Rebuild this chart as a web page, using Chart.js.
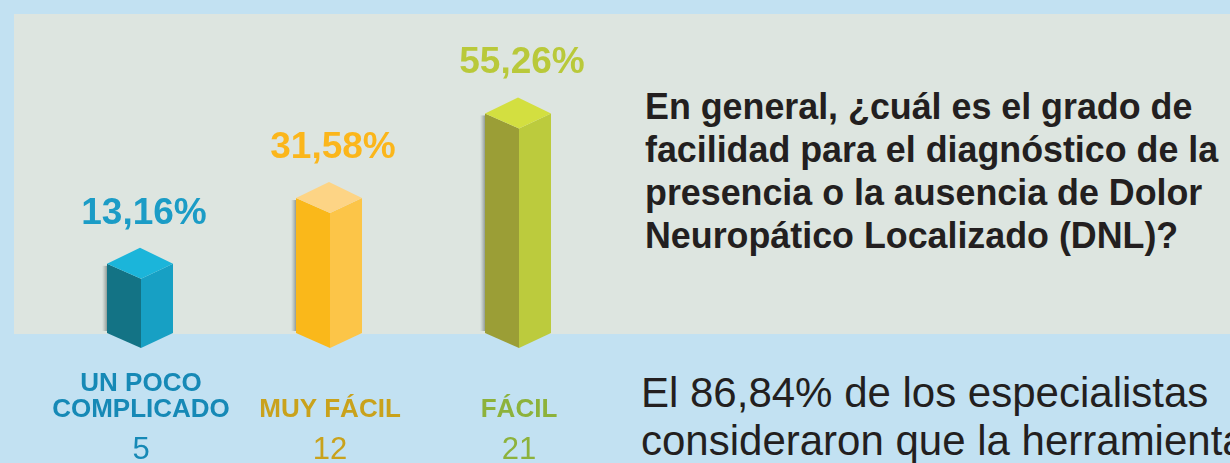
<!DOCTYPE html>
<html lang="es">
<head>
    <meta charset="UTF-8">
    <title>Grado de facilidad DNL</title>
    <script src="https://cdn.jsdelivr.net/npm/chart.js"></script>
    <style>
        html, body {
            margin: 0;
            padding: 0;
            width: 1230px;
            height: 463px;
            overflow: hidden;
            background: #c2e1f2;
            font-family: "Liberation Sans", Arial, sans-serif;
        }
        .panel {
            position: absolute;
            left: 14px;
            top: 14px;
            width: 1216px;
            height: 320px;
            background: #dde5e0;
        }
        #chart {
            position: absolute;
            left: 0;
            top: 0;
        }
        .question {
            position: absolute;
            left: 645px;
            top: 85px;
            font-size: 36px;
            line-height: 43px;
            font-weight: bold;
            color: #231f20;
            white-space: nowrap;
            transform-origin: left top;
        }
        .note {
            position: absolute;
            left: 641px;
            top: 369px;
            font-size: 42px;
            line-height: 48px;
            color: #231f20;
            white-space: nowrap;
        }
    </style>
</head>
<body>

    <div class="panel"></div>
    <canvas id="chart" width="640" height="463"></canvas>

    <div class="question" id="question">
        <div>En general, ¿cuál es el grado de</div>
        <div id="qline2">facilidad para el diagnóstico de la</div>
        <div>presencia o la ausencia de Dolor</div>
        <div>Neuropático Localizado (DNL)?</div>
    </div>

    <div class="note">
        <div>El 86,84% de los especialistas</div>
        <div>consideraron que la herramienta</div>
    </div>

    <script>
        // Chart data
        const categories = [['UN POCO', 'COMPLICADO'], ['MUY FÁCIL'], ['FÁCIL']];
        const percentages = [13.16, 31.58, 55.26];
        const counts = [5, 12, 21];

        // Colours per bar: left face, right face, top face
        const faces = [
            { left: '#137385', right: '#17a0c4', top: '#1bb5da' },
            { left: '#fab81a', right: '#fcc548', top: '#fdd485' },
            { left: '#9b9e36', right: '#bccb3d', top: '#d3df40' }
        ];
        const pctColors = ['#1b9cc6', '#fbb61b', '#b9c93a'];
        const catColors = ['#1689b6', '#c9a21c', '#8db23b'];

        const fmt = v => v.toFixed(2).replace('.', ',') + '%';

        // draws each bar as a 3D prism using the bar element geometry
        const prismPlugin = {
            id: 'prisms',
            afterDatasetsDraw(chart) {
                const ctx = chart.ctx;
                const area = chart.chartArea;
                const meta = chart.getDatasetMeta(0);
                const wl = 34, wr = 32, up = 16, down = 15;
                const bottom = area.bottom;

                meta.data.forEach((bar, i) => {
                    const c = bar.x;
                    const t = bar.y;
                    const f = faces[i];

                    // soft shadow on the left
                    const g = ctx.createLinearGradient(c - wl - 5, 0, c - wl, 0);
                    g.addColorStop(0, 'rgba(150,160,156,0)');
                    g.addColorStop(1, 'rgba(120,130,126,0.75)');
                    ctx.fillStyle = g;
                    ctx.fillRect(c - wl - 5, t + 2, 5, bottom - t - 4);

                    // left face
                    ctx.fillStyle = f.left;
                    ctx.beginPath();
                    ctx.moveTo(c - wl, t);
                    ctx.lineTo(c, t + down);
                    ctx.lineTo(c, bottom + down);
                    ctx.lineTo(c - wl, bottom);
                    ctx.closePath();
                    ctx.fill();

                    // right face
                    ctx.fillStyle = f.right;
                    ctx.beginPath();
                    ctx.moveTo(c, t + down);
                    ctx.lineTo(c + wr, t);
                    ctx.lineTo(c + wr, bottom);
                    ctx.lineTo(c, bottom + down);
                    ctx.closePath();
                    ctx.fill();

                    // top face
                    ctx.fillStyle = f.top;
                    ctx.beginPath();
                    ctx.moveTo(c - wl, t);
                    ctx.lineTo(c - 1, t - up);
                    ctx.lineTo(c + wr, t);
                    ctx.lineTo(c, t + down);
                    ctx.closePath();
                    ctx.fill();

                    // value label
                    ctx.fillStyle = pctColors[i];
                    ctx.font = 'bold 37px "Liberation Sans", Arial, sans-serif';
                    ctx.textAlign = 'center';
                    ctx.textBaseline = 'alphabetic';
                    ctx.fillText(fmt(percentages[i]), c + 3, t - up - 24);

                    // category label, bottom aligned
                    const lines = categories[i];
                    ctx.fillStyle = catColors[i];
                    ctx.font = 'bold 26px "Liberation Sans", Arial, sans-serif';
                    lines.forEach((ln, k) => {
                        ctx.fillText(ln, c, 417 - (lines.length - 1 - k) * 26);
                    });

                    // count
                    ctx.font = '31px "Liberation Sans", Arial, sans-serif';
                    ctx.fillText(String(counts[i]), c, 459);
                });
            }
        };

        new Chart(document.getElementById('chart').getContext('2d'), {
            type: 'bar',
            data: {
                labels: categories,
                datasets: [{
                    data: percentages,
                    backgroundColor: 'rgba(0,0,0,0)',
                    borderWidth: 0
                }]
            },
            options: {
                responsive: false,
                animation: false,
                devicePixelRatio: 1,
                layout: {
                    padding: { left: 46.5, right: 26.5, top: 21.5, bottom: 130 }
                },
                scales: {
                    x: { display: false },
                    y: { display: false, min: -6.2, max: 81 }
                },
                plugins: {
                    legend: { display: false },
                    tooltip: { enabled: false }
                }
            },
            plugins: [prismPlugin]
        });

        // squeeze the question block to the width it has in the original
        const q = document.getElementById('question');
        const w2 = document.getElementById('qline2').scrollWidth;
        q.style.transform = 'scaleX(' + (573 / w2) + ')';
    </script>

</body>
</html>
